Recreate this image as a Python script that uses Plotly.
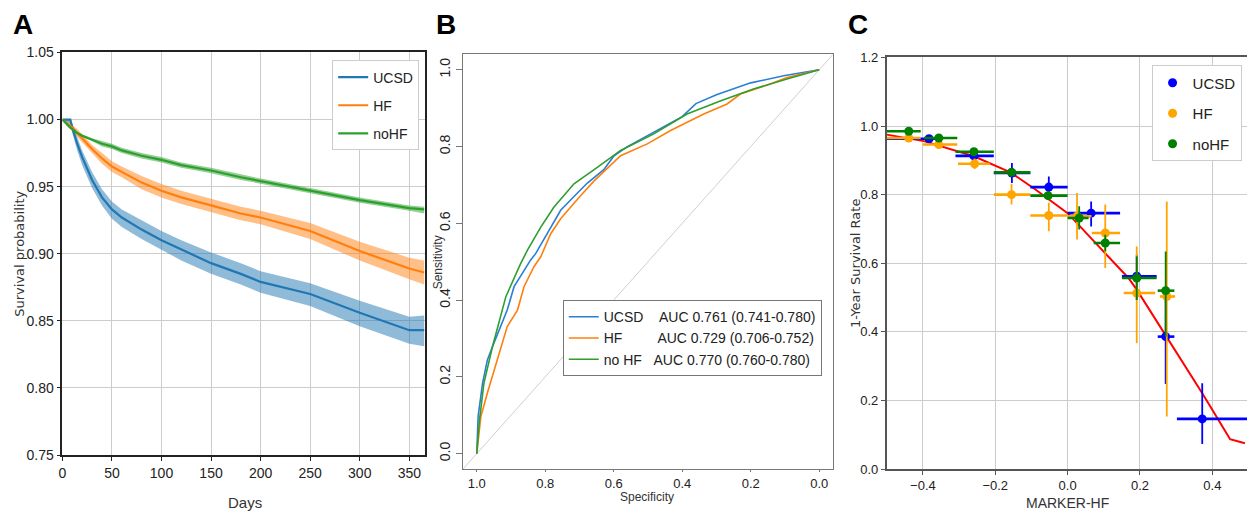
import plotly.graph_objects as go

W, H = 1255, 515

# ---------------- Panel A: Kaplan-Meier survival ----------------
days = [0, 5, 8, 10, 15, 20, 30, 40, 50, 60, 80, 100, 120, 150, 180, 200, 250, 300, 350, 365]

ucsd_surv = [1.0, 1.0, 1.0, 0.994, 0.982, 0.972, 0.955, 0.942, 0.933, 0.927, 0.918, 0.910,
             0.903, 0.893, 0.885, 0.879, 0.870, 0.856, 0.843, 0.843]
ucsd_lo = [1.0, 0.998, 0.997, 0.990, 0.977, 0.966, 0.949, 0.936, 0.926, 0.920, 0.911, 0.903,
           0.895, 0.885, 0.877, 0.871, 0.861, 0.846, 0.833, 0.831]
ucsd_hi = [1.0, 1.0, 1.0, 0.997, 0.987, 0.977, 0.961, 0.948, 0.939, 0.933, 0.925, 0.917,
           0.910, 0.901, 0.893, 0.887, 0.878, 0.865, 0.853, 0.854]

hf_surv = [1.0, 0.997, 0.995, 0.994, 0.990, 0.986, 0.978, 0.971, 0.965, 0.961, 0.953, 0.947,
           0.942, 0.936, 0.930, 0.927, 0.917, 0.902, 0.889, 0.886]
hf_lo = [1.0, 0.995, 0.993, 0.991, 0.987, 0.983, 0.975, 0.967, 0.961, 0.957, 0.948, 0.942,
         0.937, 0.931, 0.925, 0.922, 0.911, 0.895, 0.881, 0.877]
hf_hi = [1.0, 0.999, 0.997, 0.996, 0.993, 0.989, 0.981, 0.975, 0.969, 0.965, 0.958, 0.952,
         0.947, 0.941, 0.935, 0.932, 0.923, 0.909, 0.897, 0.895]

nohf_surv = [1.0, 0.996, 0.994, 0.993, 0.990, 0.988, 0.985, 0.982, 0.980, 0.977, 0.973, 0.970,
             0.966, 0.962, 0.957, 0.954, 0.947, 0.940, 0.934, 0.933]
nohf_lo = [1.0, 0.995, 0.993, 0.992, 0.989, 0.987, 0.984, 0.980, 0.978, 0.975, 0.971, 0.968,
           0.964, 0.960, 0.955, 0.952, 0.945, 0.938, 0.932, 0.930]
nohf_hi = [1.0, 0.997, 0.995, 0.994, 0.991, 0.989, 0.986, 0.984, 0.982, 0.979, 0.975, 0.972,
           0.968, 0.964, 0.959, 0.956, 0.949, 0.942, 0.936, 0.935]

A_names = ["UCSD", "HF", "noHF"]
A_colors = ["#1f77b4", "#ff7f0e", "#2ca02c"]
A_fills = ["rgba(31,119,180,0.5)", "rgba(255,127,14,0.5)", "rgba(44,160,44,0.5)"]
A_xticks = [0, 50, 100, 150, 200, 250, 300, 350]
A_yticks = [0.75, 0.80, 0.85, 0.90, 0.95, 1.00, 1.05]

# ---------------- Panel B: ROC curves ----------------
roc_ucsd_spec = [1.0, 0.996, 0.983, 0.969, 0.95, 0.93, 0.911, 0.891, 0.862, 0.843, 0.828, 0.794,
                 0.755, 0.716, 0.677, 0.629, 0.60, 0.56, 0.52, 0.48, 0.40, 0.36, 0.30, 0.20, 0.10, 0.0]
roc_ucsd_sens = [0.0, 0.097, 0.184, 0.244, 0.288, 0.331, 0.374, 0.435, 0.478, 0.504, 0.521, 0.573,
                 0.634, 0.67, 0.705, 0.74, 0.775, 0.80, 0.82, 0.84, 0.878, 0.912, 0.935, 0.966, 0.985, 1.0]

roc_hf_spec = [1.0, 0.988, 0.969, 0.935, 0.911, 0.881, 0.862, 0.833, 0.813, 0.784, 0.755, 0.697,
               0.658, 0.58, 0.502, 0.434, 0.337, 0.269, 0.23, 0.143, 0.094, 0.0]
roc_hf_sens = [0.0, 0.097, 0.158, 0.262, 0.331, 0.374, 0.435, 0.487, 0.513, 0.573, 0.612, 0.672,
               0.71, 0.776, 0.807, 0.842, 0.885, 0.911, 0.937, 0.963, 0.98, 1.0]

roc_nohf_spec = [1.0, 0.993, 0.979, 0.954, 0.915, 0.872, 0.852, 0.813, 0.775, 0.716, 0.648, 0.58,
                 0.483, 0.386, 0.289, 0.192, 0.094, 0.0]
roc_nohf_sens = [0.0, 0.08, 0.184, 0.279, 0.409, 0.495, 0.53, 0.59, 0.642, 0.703, 0.746, 0.79,
                 0.833, 0.885, 0.919, 0.95, 0.976, 1.0]

B_labels = ["UCSD\u00a0\u00a0\u00a0\u00a0AUC 0.761 (0.741-0.780)",
            "HF\u00a0\u00a0\u00a0\u00a0\u00a0\u00a0\u00a0\u00a0\u00a0AUC 0.729 (0.706-0.752)",
            "no HF\u00a0\u00a0\u00a0AUC 0.770 (0.760-0.780)"]
B_colors = ["#2a7fd4", "#ff7f0e", "#2e9e2e"]
B_range = [1.04, -0.04]
B_ticks = [1.0, 0.8, 0.6, 0.4, 0.2, 0.0]

# ---------------- Panel C: calibration ----------------
c_ucsd_x = [-0.383, -0.259, -0.154, -0.052, 0.065, 0.191, 0.271, 0.372]
c_ucsd_y = [0.963, 0.913, 0.863, 0.822, 0.746, 0.562, 0.386, 0.146]
c_ucsd_xlo = [-0.50, -0.31, -0.204, -0.103, 0.0, 0.15, 0.249, 0.302]
c_ucsd_xhi = [-0.35, -0.204, -0.103, 0.0, 0.145, 0.246, 0.295, 0.52]
c_ucsd_ylo = [0.955, 0.903, 0.834, 0.79, 0.707, 0.493, 0.248, 0.073]
c_ucsd_yhi = [0.971, 0.923, 0.892, 0.853, 0.78, 0.625, 0.493, 0.25]

c_hf_x = [-0.439, -0.356, -0.257, -0.155, -0.052, 0.026, 0.104, 0.191, 0.274]
c_hf_y = [0.965, 0.946, 0.89, 0.80, 0.739, 0.737, 0.688, 0.513, 0.503]
c_hf_xlo = [-0.52, -0.40, -0.303, -0.204, -0.103, 0.0, 0.067, 0.155, 0.255]
c_hf_xhi = [-0.406, -0.305, -0.215, -0.103, 0.0, 0.066, 0.145, 0.242, 0.297]
c_hf_ylo = [0.957, 0.938, 0.875, 0.771, 0.693, 0.669, 0.586, 0.367, 0.153]
c_hf_yhi = [0.973, 0.954, 0.905, 0.832, 0.776, 0.805, 0.771, 0.649, 0.78]

c_nohf_x = [-0.439, -0.356, -0.259, -0.155, -0.054, 0.032, 0.104, 0.191, 0.271]
c_nohf_y = [0.985, 0.965, 0.925, 0.865, 0.797, 0.732, 0.659, 0.557, 0.52]
c_nohf_xlo = [-0.52, -0.397, -0.31, -0.204, -0.103, 0.0, 0.072, 0.15, 0.249]
c_nohf_xhi = [-0.406, -0.305, -0.204, -0.103, 0.0, 0.058, 0.145, 0.246, 0.295]
c_nohf_ylo = [0.977, 0.958, 0.917, 0.855, 0.785, 0.698, 0.635, 0.493, 0.386]
c_nohf_yhi = [0.992, 0.972, 0.933, 0.875, 0.81, 0.766, 0.683, 0.62, 0.634]

fit_x = [-0.5, -0.397, -0.259, -0.158, -0.089, 0.0, 0.086, 0.168, 0.191, 0.274, 0.372, 0.417, 0.449, 0.49]
fit_y = [0.975, 0.956, 0.912, 0.865, 0.815, 0.746, 0.649, 0.557, 0.523, 0.386, 0.221, 0.143, 0.087, 0.075]

C_xticks = [-0.4, -0.2, 0.0, 0.2, 0.4]
C_yticks = [0.0, 0.2, 0.4, 0.6, 0.8, 1.0, 1.2]

# page offset compensation (observed rendering offset / vertical squeeze)
OFF_X, OFF_Y, SCALE_Y = 9.5, 15.5, 0.97


def px_x(p):
    return (p - OFF_X) / W


def px_y(p):
    return 1 - ((p - OFF_Y) / SCALE_Y) / H


fig = go.Figure()

# Panel A traces
A_series = [(ucsd_surv, ucsd_lo, ucsd_hi), (hf_surv, hf_lo, hf_hi), (nohf_surv, nohf_lo, nohf_hi)]
for (s, lo, hi), name, col, fcol in zip(A_series, A_names, A_colors, A_fills):
    fig.add_trace(go.Scatter(x=days + days[::-1], y=hi + lo[::-1], fill="toself",
                             fillcolor=fcol, line=dict(width=0), mode="lines",
                             showlegend=False, hoverinfo="skip", xaxis="x", yaxis="y"))
for (s, lo, hi), name, col in zip(A_series, A_names, A_colors):
    fig.add_trace(go.Scatter(x=days, y=s, mode="lines", name=name,
                             line=dict(color=col, width=2.2), xaxis="x", yaxis="y",
                             legend="legend", legendgroup="a" + name))

# Panel B traces
fig.add_trace(go.Scatter(x=B_range, y=[1 - v for v in B_range], mode="lines",
                         line=dict(color="#cfcfcf", width=1), showlegend=False,
                         xaxis="x2", yaxis="y2", hoverinfo="skip"))
for sx, sy, lab, col in zip([roc_ucsd_spec, roc_hf_spec, roc_nohf_spec],
                            [roc_ucsd_sens, roc_hf_sens, roc_nohf_sens], B_labels, B_colors):
    fig.add_trace(go.Scatter(x=sx, y=sy, mode="lines", name=lab,
                             line=dict(color=col, width=1.6), xaxis="x2", yaxis="y2",
                             legend="legend2"))

# Panel C traces
fig.add_trace(go.Scatter(x=fit_x, y=fit_y, mode="lines", line=dict(color="red", width=2),
                         showlegend=False, xaxis="x3", yaxis="y3"))
C_series = [
    ("UCSD", "blue", c_ucsd_x, c_ucsd_y, c_ucsd_xlo, c_ucsd_xhi, c_ucsd_ylo, c_ucsd_yhi),
    ("HF", "orange", c_hf_x, c_hf_y, c_hf_xlo, c_hf_xhi, c_hf_ylo, c_hf_yhi),
    ("noHF", "green", c_nohf_x, c_nohf_y, c_nohf_xlo, c_nohf_xhi, c_nohf_ylo, c_nohf_yhi),
]
for name, col, xs, ys, xlo, xhi, ylo, yhi in C_series:
    fig.add_trace(go.Scatter(
        x=xs, y=ys, mode="markers", name=name,
        marker=dict(color=col, size=9, line=dict(width=0)),
        error_x=dict(type="data", symmetric=False,
                     array=[h - v for h, v in zip(xhi, xs)],
                     arrayminus=[v - l for l, v in zip(xlo, xs)],
                     color=col, thickness=2.6, width=0),
        error_y=dict(type="data", symmetric=False,
                     array=[h - v for h, v in zip(yhi, ys)],
                     arrayminus=[v - l for l, v in zip(ylo, ys)],
                     color=col, thickness=1.8, width=0),
        xaxis="x3", yaxis="y3", legend="legend3", legendgroup="c" + name))

narrow = "Liberation Sans Narrow, Liberation Sans, Arial, sans-serif"
arial = "Liberation Sans, Arial, sans-serif"

axA = dict(showline=True, linecolor="#222", linewidth=1.5, mirror=True, ticks="outside",
           ticklen=4, tickcolor="#222", showgrid=True, gridcolor="#cccccc", gridwidth=1.4,
           zeroline=False, tickfont=dict(family=narrow, size=14, color="#222"))
axC = dict(axA)
axC["linecolor"] = "#555"
axC["tickcolor"] = "#555"
axC["tickfont"] = dict(family=narrow, size=13, color="#222")
axB = dict(showline=True, linecolor="#777", linewidth=1, mirror=True, ticks="outside",
           ticklen=5, tickcolor="#777", showgrid=False, zeroline=False,
           tickfont=dict(family=arial, size=14, color="#222"))

fig.update_layout(
    width=W, height=H, margin=dict(l=0, r=0, t=0, b=0),
    paper_bgcolor="white", plot_bgcolor="white",
    xaxis=dict(axA, domain=[px_x(60), px_x(424)], range=[0, 366], tickvals=A_xticks,
               anchor="y"),
    yaxis=dict(axA, domain=[px_y(455), px_y(52)], range=[0.75, 1.05], tickvals=A_yticks,
               tickformat=".2f", anchor="x"),
    xaxis2=dict(axB, domain=[px_x(462), px_x(833)], range=B_range, tickvals=B_ticks,
                tickformat=".1f", anchor="y2", ticklen=2,
                tickfont=dict(family=arial, size=13, color="#222")),
    yaxis2=dict(axB, domain=[px_y(469), px_y(54)], range=[-0.04, 1.04], tickvals=B_ticks,
                tickformat=".1f", tickangle=-90, anchor="x2", ticklen=6),
    xaxis3=dict(axC, domain=[px_x(887), px_x(1250)], range=[-0.5, 0.5], tickvals=C_xticks,
                tickformat=".1f", anchor="y3"),
    yaxis3=dict(axC, domain=[px_y(469), px_y(57)], range=[0, 1.2], tickvals=C_yticks,
                tickformat=".1f", anchor="x3"),
    legend=dict(x=px_x(418), y=px_y(60), xanchor="right", yanchor="top",
                bgcolor="white", bordercolor="#cccccc", borderwidth=1, itemwidth=30,
                font=dict(family=narrow, size=14, color="#222"), tracegroupgap=7),
    legend2=dict(x=px_x(562), y=px_y(300), xanchor="left", yanchor="top",
                 bgcolor="white", bordercolor="#777", borderwidth=1, itemwidth=30,
                 font=dict(family=arial, size=14, color="#222"), tracegroupgap=0),
    legend3=dict(x=px_x(1243), y=px_y(65), xanchor="right", yanchor="top",
                 bgcolor="white", bordercolor="#cccccc", borderwidth=1, itemwidth=30,
                 font=dict(family=narrow, size=15, color="#222"), tracegroupgap=8),
)

ann = []
for lab, xp in [("A", 8), ("B", 433), ("C", 846)]:
    ann.append(dict(text="<b>%s</b>" % lab, x=px_x(xp), y=px_y(24), xref="paper", yref="paper",
                    xanchor="left", yanchor="middle", showarrow=False,
                    font=dict(family=arial, size=28, color="black")))
titles = [
    ("Survival probability", 17, 253, -90, "DejaVu Sans", 13),
    ("Days", 243, 503, 0, narrow, 15),
    ("Sensitivity", 437, 262, -90, arial, 12),
    ("Specificity", 647, 497, 0, arial, 12),
    ("1-Year Survival Rate", 855, 263, -90, "DejaVu Sans", 13),
    ("MARKER-HF", 1068, 503, 0, narrow, 14),
]
for t, xp, yp, ang, fam, sz in titles:
    ann.append(dict(text=t, x=px_x(xp), y=px_y(yp), xref="paper", yref="paper",
                    xanchor="center", yanchor="middle", showarrow=False, textangle=ang,
                    font=dict(family=fam, size=sz, color="#333")))
fig.update_layout(annotations=ann)

fig.write_html("out.html")
